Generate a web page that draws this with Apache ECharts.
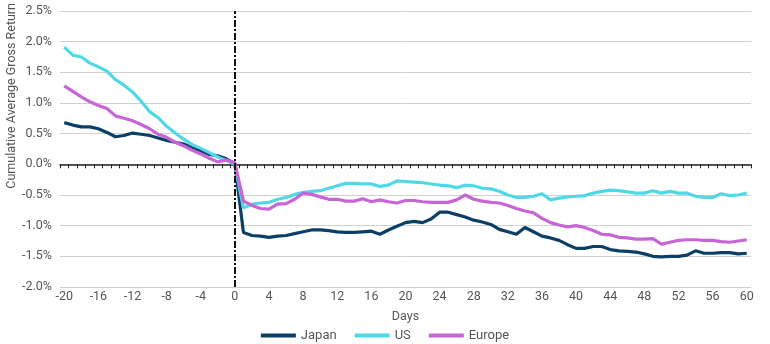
<!DOCTYPE html>
<html>
<head>
<meta charset="utf-8">
<script src="https://cdn.jsdelivr.net/npm/echarts@6/dist/echarts.min.js"></script>
<style>
  html, body { margin: 0; padding: 0; background: #fff; }
  #chart { width: 770px; height: 344px; }
</style>
</head>
<body>
<div id="chart"></div>
<script>
// Trading days relative to the event (day 0)
const days = [];
for (let d = -20; d <= 60; d++) days.push(String(d));

// Cumulative average gross return, in percent
const japan = [
  0.68, 0.64, 0.61, 0.61, 0.58, 0.52, 0.45, 0.47, 0.51, 0.49,
  0.47, 0.43, 0.39, 0.36, 0.33, 0.27, 0.22, 0.16, 0.14, 0.09,
  0.01,
  -1.11, -1.16, -1.17, -1.19, -1.17, -1.16, -1.13, -1.10, -1.07, -1.07,
  -1.08, -1.10, -1.11, -1.11, -1.10, -1.09, -1.14, -1.07, -1.01, -0.95,
  -0.93, -0.95, -0.89, -0.78, -0.78, -0.82, -0.86, -0.91, -0.94, -0.98,
  -1.06, -1.10, -1.14, -1.03, -1.10, -1.17, -1.20, -1.24, -1.31, -1.37,
  -1.37, -1.34, -1.34, -1.39, -1.41, -1.42, -1.43, -1.46, -1.50, -1.51,
  -1.50, -1.50, -1.48, -1.41, -1.45, -1.45, -1.44, -1.44, -1.46, -1.45
];
const us = [
  1.91, 1.78, 1.75, 1.65, 1.59, 1.52, 1.38, 1.29, 1.18, 1.03,
  0.86, 0.76, 0.62, 0.51, 0.41, 0.32, 0.26, 0.19, 0.12, 0.06,
  0.00,
  -0.71, -0.65, -0.63, -0.62, -0.57, -0.54, -0.49, -0.46, -0.44, -0.43,
  -0.39, -0.35, -0.31, -0.31, -0.32, -0.32, -0.36, -0.34, -0.27, -0.28,
  -0.29, -0.30, -0.32, -0.34, -0.35, -0.38, -0.34, -0.35, -0.39, -0.40,
  -0.44, -0.50, -0.54, -0.54, -0.52, -0.48, -0.58, -0.55, -0.53, -0.52,
  -0.51, -0.47, -0.44, -0.42, -0.43, -0.45, -0.47, -0.47, -0.43, -0.47,
  -0.44, -0.47, -0.47, -0.52, -0.54, -0.54, -0.48, -0.51, -0.50, -0.47
];
const europe = [
  1.28, 1.19, 1.10, 1.02, 0.96, 0.91, 0.79, 0.75, 0.71, 0.65,
  0.58, 0.49, 0.44, 0.36, 0.30, 0.23, 0.17, 0.10, 0.04, 0.07,
  0.02,
  -0.60, -0.67, -0.72, -0.73, -0.65, -0.64, -0.57, -0.47, -0.49, -0.53,
  -0.57, -0.57, -0.60, -0.60, -0.56, -0.61, -0.58, -0.61, -0.63, -0.59,
  -0.59, -0.61, -0.62, -0.62, -0.62, -0.58, -0.50, -0.57, -0.60, -0.62,
  -0.63, -0.67, -0.72, -0.76, -0.79, -0.88, -0.95, -0.99, -1.02, -1.00,
  -1.03, -1.08, -1.14, -1.15, -1.19, -1.20, -1.22, -1.22, -1.21, -1.30,
  -1.27, -1.24, -1.23, -1.23, -1.24, -1.24, -1.26, -1.27, -1.25, -1.23
];

const seriesNames = ['Japan', 'US', 'Europe'];
const seriesColors = ['#0c3f66', '#4fd8e6', '#c865d6'];
const seriesData = [japan, us, europe];

const font = 'Roboto, "Noto Sans", sans-serif';
const textColor = '#555555';

const chart = echarts.init(document.getElementById('chart'), null, { renderer: 'canvas' });

const series = seriesNames.map((name, i) => ({
  name: name,
  type: 'line',
  data: seriesData[i],
  xAxisIndex: 0,
  symbol: 'none',
  smooth: false,
  lineStyle: { color: seriesColors[i], width: 3.2 },
  itemStyle: { color: seriesColors[i] },
  z: 3 + i,
  animation: false
}));

// Event-day marker: dash-dot vertical line at day 0
series[0].markLine = {
  silent: true,
  symbol: 'none',
  label: { show: false },
  lineStyle: { color: '#111111', width: 2, type: [7, 2, 2, 2] },
  data: [{ xAxis: '0' }],
  z: 10
};

chart.setOption({
  animation: false,
  textStyle: { fontFamily: font },
  grid: { left: 60, right: 19, top: 11, bottom: 57, containLabel: false },
  xAxis: [
    {
      type: 'category',
      data: days,
      position: 'bottom',
      boundaryGap: true,
      axisLine: { show: false, onZero: false },
      axisTick: { show: false },
      axisLabel: {
        interval: 3,
        color: textColor,
        fontSize: 12.5,
        fontFamily: font,
        margin: 3
      },
      splitLine: { show: false },
      name: 'Days',
      nameLocation: 'middle',
      nameGap: 23,
      nameTextStyle: { color: textColor, fontSize: 12.5, fontFamily: font, verticalAlign: 'top' }
    },
    {
      type: 'category',
      data: days,
      position: 'top',
      boundaryGap: true,
      axisLine: { show: true, onZero: true, lineStyle: { color: '#222222', width: 1.5 } },
      axisTick: { show: true, inside: true, interval: 0, length: 4, lineStyle: { color: '#222222', width: 1 } },
      axisLabel: { show: false },
      splitLine: { show: false }
    }
  ],
  yAxis: {
    type: 'value',
    min: -2,
    max: 2.5,
    interval: 0.5,
    axisLine: { show: false },
    axisTick: { show: false },
    axisLabel: {
      color: textColor,
      fontSize: 12.5,
      fontFamily: font,
      margin: 8,
      formatter: v => v.toFixed(1) + '%'
    },
    splitLine: { lineStyle: { color: '#d0d0d0', width: 1 } }
  },
  legend: {
    data: seriesNames,
    bottom: -3,
    left: 'center',
    icon: 'rect',
    itemWidth: 35,
    itemHeight: 4,
    itemGap: 18,
    textStyle: { color: textColor, fontSize: 13, fontFamily: font }
  },
  graphic: [{
    type: 'text',
    left: 5,
    top: 3,
    rotation: Math.PI / 2,
    style: {
      text: 'Cumulative Average Gross Return',
      fill: textColor,
      font: '12.5px ' + font
    }
  }],
  series: series
});
</script>
</body>
</html>
